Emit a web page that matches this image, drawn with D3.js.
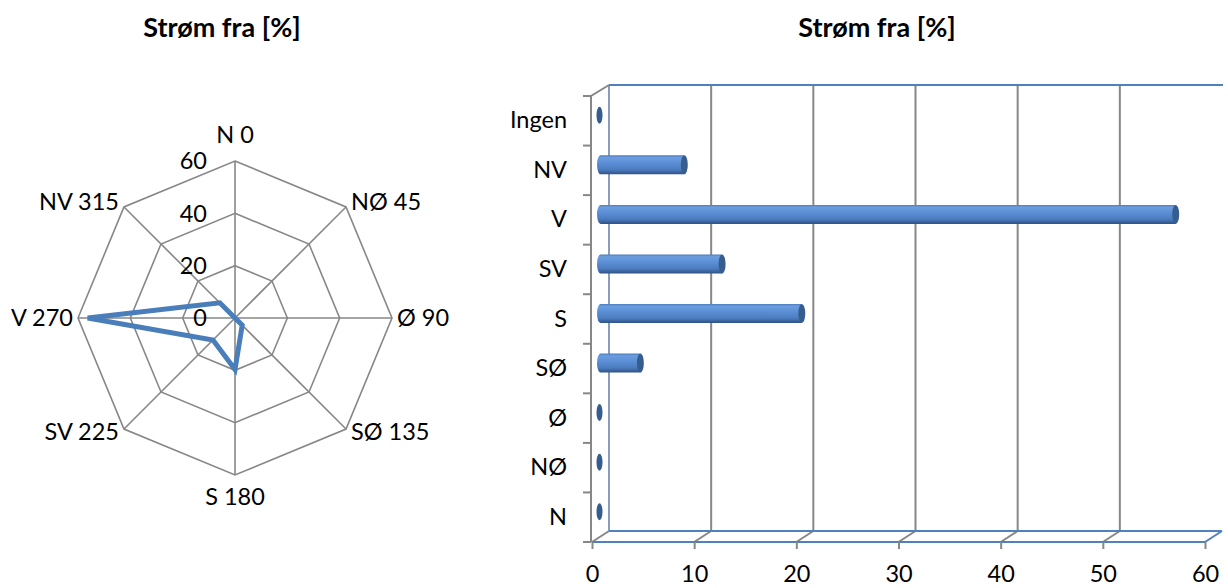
<!DOCTYPE html>
<html>
<head>
<meta charset="utf-8">
<script src="https://cdn.jsdelivr.net/npm/d3@7"></script>
<style>
  body { margin: 0; background: #fff; }
  svg { display: block; font-family: Lato, "Open Sans", sans-serif; }
</style>
</head>
<body>
<svg id="chart" width="1228" height="588"></svg>
<script>
// radar: direction the current comes from, clockwise from north
var radarLabels = ["N 0", "NØ 45", "Ø 90", "SØ 135", "S 180", "SV 225", "V 270", "NV 315"];
var radarValues = [0, 0, 0, 3.9, 19.7, 11.9, 56.3, 8.2];
var radarTicks = [0, 20, 40, 60];

// bar chart, top to bottom
var barCategories = ["Ingen", "NV", "V", "SV", "S", "SØ", "Ø", "NØ", "N"];
var barValues = [0, 8.2, 56.3, 11.9, 19.7, 3.9, 0, 0, 0];
var barTicks = [0, 10, 20, 30, 40, 50, 60];

var title = "Strøm fra [%]";

var svg = d3.select("#chart");
var grid = "#878787";
var blue = "#4f81bd";
var fs = 23.5;

/* ---------- radar ---------- */
var cx = 235, cy = 318;
var r = d3.scaleLinear().domain([0, 60]).range([0, 157]);
var n = radarLabels.length;
function ang(i) { return i * 2 * Math.PI / n; }
function px(i, v) { return cx + r(v) * Math.sin(ang(i)); }
function py(i, v) { return cy - r(v) * Math.cos(ang(i)); }

var radar = svg.append("g");

radar.append("text")
    .attr("x", 222).attr("y", 37)
    .attr("text-anchor", "middle")
    .attr("font-weight", "bold")
    .attr("font-size", 27)
    .text(title);

// rings
radar.selectAll("polygon.ring").data(radarTicks.slice(1)).enter().append("polygon")
    .attr("class", "ring")
    .attr("points", function(t) {
        return d3.range(n).map(function(i) { return px(i, t) + "," + py(i, t); }).join(" ");
    })
    .attr("fill", "none")
    .attr("stroke", grid)
    .attr("stroke-width", 1.6);

// spokes
radar.selectAll("line.spoke").data(d3.range(n)).enter().append("line")
    .attr("x1", cx).attr("y1", cy)
    .attr("x2", function(i) { return px(i, 60); })
    .attr("y2", function(i) { return py(i, 60); })
    .attr("stroke", grid)
    .attr("stroke-width", 1.6);

// value axis labels
radar.selectAll("text.tick").data(radarTicks).enter().append("text")
    .attr("x", cx - 28)
    .attr("y", function(t) { return cy - r(t); })
    .attr("dy", "0.36em")
    .attr("text-anchor", "end")
    .attr("font-size", fs)
    .text(function(t) { return t; });

// data line
var line = d3.lineRadial()
    .angle(function(d, i) { return ang(i); })
    .radius(function(d) { return r(d); })
    .curve(d3.curveLinearClosed);

radar.append("path")
    .attr("transform", "translate(" + cx + "," + cy + ")")
    .attr("d", line(radarValues))
    .attr("fill", "none")
    .attr("stroke", "#4a7ebb")
    .attr("stroke-width", 5)
    .attr("stroke-linejoin", "miter");

// category labels
radar.selectAll("text.cat").data(radarLabels).enter().append("text")
    .attr("font-size", fs)
    .attr("x", function(d, i) {
        var s = Math.round(Math.sin(ang(i)) * 100) / 100;
        return px(i, 60) + (s > 0 ? 5 : s < 0 ? -5 : 0);
    })
    .attr("y", function(d, i) {
        var c = Math.round(Math.cos(ang(i)) * 100) / 100;
        var y = py(i, 60);
        if (c === 1) return y - 26;
        if (c === -1) return y + 22;
        return y + (c > 0 ? -5 : c < 0 ? 3 : 0);
    })
    .attr("dy", "0.36em")
    .attr("text-anchor", function(d, i) {
        var s = Math.round(Math.sin(ang(i)) * 100) / 100;
        return s > 0 ? "start" : s < 0 ? "end" : "middle";
    })
    .text(function(d) { return d; });

/* ---------- 3d bar chart ---------- */
var x = d3.scaleLinear().domain([0, 60]).range([592, 1205]);
var y = d3.scaleBand().domain(barCategories).range([96, 542]);
var dx = 17, dy = -11;
var yTop = 96, yBottom = 542;

var bars = svg.append("g");

bars.append("text")
    .attr("x", 877).attr("y", 37)
    .attr("text-anchor", "middle")
    .attr("font-weight", "bold")
    .attr("font-size", 27)
    .text(title);

// back wall gridlines
bars.selectAll("line.grid").data(barTicks.slice(1, -1)).enter().append("line")
    .attr("x1", function(t) { return x(t) + dx; })
    .attr("x2", function(t) { return x(t) + dx; })
    .attr("y1", yTop + dy).attr("y2", yBottom + dy)
    .attr("stroke", grid).attr("stroke-width", 2);

// floor diagonals
bars.selectAll("line.floor").data(barTicks).enter().append("line")
    .attr("x1", function(t) { return x(t); })
    .attr("x2", function(t) { return x(t) + dx; })
    .attr("y1", yBottom).attr("y2", yBottom + dy)
    .attr("stroke", function(t, i) { return i === barTicks.length - 1 ? blue : grid; })
    .attr("stroke-width", 2);

// back wall left edge
bars.append("line")
    .attr("x1", x(0) + dx).attr("x2", x(0) + dx)
    .attr("y1", yTop + dy).attr("y2", yBottom + dy)
    .attr("stroke", "#8a9cb8").attr("stroke-width", 2);

// top and floor edges
bars.append("line")
    .attr("x1", x(0) + dx).attr("x2", x(60) + dx + 1)
    .attr("y1", yTop + dy).attr("y2", yTop + dy)
    .attr("stroke", blue).attr("stroke-width", 2);
bars.append("line")
    .attr("x1", x(0) + dx).attr("x2", x(60) + dx)
    .attr("y1", yBottom + dy).attr("y2", yBottom + dy)
    .attr("stroke", blue).attr("stroke-width", 2);
bars.append("line")
    .attr("x1", x(0)).attr("x2", x(60))
    .attr("y1", yBottom).attr("y2", yBottom)
    .attr("stroke", blue).attr("stroke-width", 2);

// left wall front edge + top diagonal
bars.append("path")
    .attr("d", "M" + (x(0) + dx) + "," + (yTop + dy) + "L" + (x(0) - 1) + "," + yTop + "L" + (x(0) - 1) + "," + yBottom)
    .attr("fill", "none")
    .attr("stroke", grid).attr("stroke-width", 2);

// left ticks at band boundaries
var bounds = barCategories.map(function(c) { return y(c); }).concat([yBottom]);
bars.selectAll("line.ytick").data(bounds).enter().append("line")
    .attr("x1", x(0) - 9).attr("x2", x(0) - 1)
    .attr("y1", function(d) { return d; }).attr("y2", function(d) { return d; })
    .attr("stroke", grid).attr("stroke-width", 2);

// category labels
var yAxis = bars.append("g")
    .attr("transform", "translate(" + (x(0) - 25) + ",0)")
    .call(d3.axisLeft(y).tickSize(0).tickPadding(0));
yAxis.select(".domain").remove();
yAxis.selectAll("text")
    .attr("font-size", fs)
    .attr("font-family", "Lato, 'Open Sans', sans-serif")
    .attr("fill", "#000");

// value axis
var xAxis = bars.append("g")
    .attr("transform", "translate(0," + yBottom + ")")
    .call(d3.axisBottom(x).tickValues(barTicks).tickSize(7).tickPadding(16));
xAxis.select(".domain").remove();
xAxis.selectAll("line").attr("stroke", grid).attr("stroke-width", 2);
xAxis.selectAll("text")
    .attr("font-size", fs)
    .attr("font-family", "Lato, 'Open Sans', sans-serif")
    .attr("fill", "#000");

// cylinder gradients
var defs = svg.append("defs");
var body = defs.append("linearGradient").attr("id", "body")
    .attr("x1", 0).attr("y1", 0).attr("x2", 0).attr("y2", 1);
[["0%", "#4a7cbf"], ["12%", "#6c9ddf"], ["40%", "#5b8fd6"], ["75%", "#4c7cbf"], ["100%", "#2f5185"]]
    .forEach(function(s) { body.append("stop").attr("offset", s[0]).attr("stop-color", s[1]); });

var bh = 19, rx = 3.5;
var bx0 = x(0) + dx / 2;
function bcy(c) { return y(c) + y.bandwidth() / 2 + dy / 2; }

var data = barCategories.map(function(c, i) { return { c: c, v: barValues[i] }; });

var cyl = bars.selectAll("g.bar").data(data).enter().append("g");

cyl.filter(function(d) { return d.v > 0; }).append("path")
    .attr("d", function(d) {
        var yc = bcy(d.c), x1 = x(d.v) + dx / 2;
        return "M" + x1 + "," + (yc - bh / 2) +
            "L" + bx0 + "," + (yc - bh / 2) +
            "A" + rx + "," + (bh / 2) + " 0 0 0 " + bx0 + "," + (yc + bh / 2) +
            "L" + x1 + "," + (yc + bh / 2) + "Z";
    })
    .attr("fill", "url(#body)");

cyl.append("ellipse")
    .attr("cx", function(d) { return d.v > 0 ? x(d.v) + dx / 2 : bx0 - 1; })
    .attr("cy", function(d) { return bcy(d.c); })
    .attr("rx", function(d) { return d.v > 0 ? rx : 3; })
    .attr("ry", function(d) { return d.v > 0 ? bh / 2 : 8.5; })
    .attr("fill", "#375d8f");
</script>
</body>
</html>
